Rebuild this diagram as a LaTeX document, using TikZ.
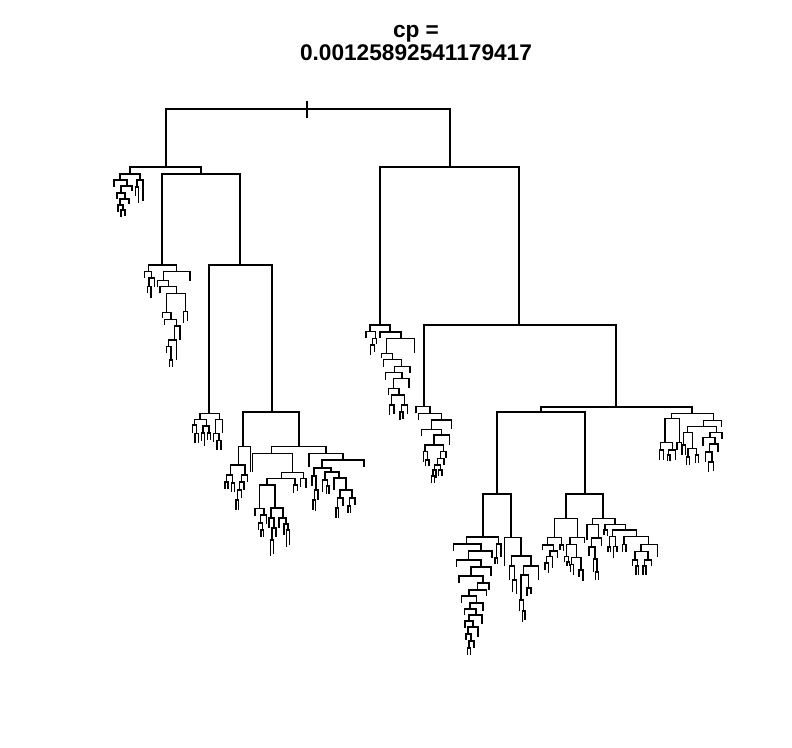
\documentclass[tikz,border=0pt]{standalone}
\usepackage{fontspec}
\newfontfamily\titlefont{Liberation Sans}
% bracket: left x, right x, bar y, left leg bottom, right leg bottom
\newcommand\dbr[5]{\draw[dend] (#1,#4)--(#1,#3)--(#2,#3)--(#2,#5);}
\begin{document}
\begin{tikzpicture}[x=0.75pt,y=-0.75pt,dend/.style={line width=0.8pt,black}]
\useasboundingbox (0,0) rectangle (792,747);
% title
\node[anchor=base,inner sep=0pt,font=\titlefont\bfseries\fontsize{17}{20}\selectfont] (t1) at (416,37.5) {cp =};
\node[anchor=base,inner sep=0pt,font=\titlefont\bfseries\fontsize{17}{20}\selectfont] (t2) at (416,60.7) {0.00125892541179417};
% skeleton
\dbr{166}{450}{109}{167}{167}
\draw[dend] (307,101)--(307,118);
\dbr{130}{201}{167}{174}{174}
\dbr{162}{240}{174}{265}{265}
\dbr{209}{272}{265}{413.3}{412}
\dbr{243}{299}{412}{446.7}{446.7}
\dbr{380}{519}{167}{325}{325}
\dbr{424}{616}{325}{406.7}{407}
\dbr{541}{692}{407}{412}{413.3}
\dbr{497}{585}{412}{494}{494}
\dbr{483}{511}{494}{537}{537.5}
\dbr{566}{603}{494}{518.3}{518.3}
% A
\dbr{120}{140}{174}{180}{180}
\dbr{114}{127}{180}{187}{186}
\dbr{121}{132}{186}{193}{191}
\dbr{117}{125}{193}{199}{199}
\dbr{120}{129}{199}{205}{204}
\dbr{118}{123}{205}{212}{210}
\dbr{121}{125}{210}{217}{216}
\dbr{137}{143}{180}{187}{201}
\dbr{135.5}{138.5}{187}{196}{203}
% B
\dbr{148.3}{176.7}{265}{271.7}{271.7}
\dbr{144.3}{151.7}{271.7}{278}{278}
\dbr{149}{154.3}{278}{286.7}{286.7}
\dbr{147.7}{151}{286.7}{293}{298}
\dbr{163.3}{190}{271.7}{280.7}{280.7}
\dbr{157.7}{168.3}{280.7}{287}{286.7}
\dbr{160}{176.7}{286.7}{293.3}{293.3}
\dbr{166.7}{185.7}{293.3}{312.7}{311.7}
\dbr{183.7}{187.7}{311.7}{323}{321}
\dbr{162.3}{171}{312.7}{318}{319.3}
\dbr{164.3}{176.7}{319.3}{325}{326}
\dbr{174.3}{180}{326}{340}{340}
\dbr{168.3}{176.7}{340}{346.7}{360}
\dbr{166.3}{171}{346.7}{353}{360}
\dbr{169.5}{172.5}{360}{367}{367}
% C
\dbr{200}{219.3}{413.3}{419.3}{419.3}
\dbr{194.3}{206.7}{419.3}{425}{426}
\dbr{192.3}{196.7}{425}{433.3}{433.3}
\dbr{195}{198.7}{433.3}{443.3}{443.3}
\dbr{203}{209}{426}{433}{433}
\dbr{201.7}{204.3}{433}{441}{446}
\dbr{207.7}{210.3}{433}{440}{440}
\dbr{215.7}{222.3}{419.3}{433.3}{433.3}
\dbr{213.3}{219}{433.3}{441.7}{440.7}
\dbr{217}{221}{440.7}{450}{450}
% D
\dbr{238.3}{250.7}{446.7}{465}{471.7}
\dbr{230.7}{245}{465}{475}{475}
\dbr{226.7}{232.7}{475}{482}{483}
\dbr{225}{228}{482}{489}{489}
\dbr{231.3}{234.3}{483}{492}{492}
\dbr{241.7}{247.3}{475}{482}{482}
\dbr{239.3}{244}{482}{490}{490}
\dbr{237.3}{241.3}{490}{500}{498}
\dbr{236}{238.7}{500}{510}{510}
% D' left
\dbr{271.7}{326}{446.7}{453.3}{453.3}
\dbr{252.7}{292.7}{453.3}{472.3}{472.3}
\dbr{281.7}{303.3}{472.3}{478.3}{478.3}
\dbr{300.3}{306}{478.3}{486.7}{488}
\dbr{267}{295}{478.3}{485}{485}
\dbr{293.3}{297.3}{485}{493.3}{491}
\dbr{259.3}{275}{485}{508.3}{508}
\dbr{255}{264}{508.3}{516}{515}
\dbr{260.3}{266.3}{515}{523}{524}
\dbr{258.3}{262.3}{523}{530}{530}
\dbr{261}{263.7}{530}{537}{537}
\dbr{271}{283}{508}{518}{518}
\dbr{269}{274}{518}{528}{528}
\dbr{272}{276}{528}{540}{537}
\dbr{270.7}{273.3}{540}{556}{554}
\dbr{279}{286}{518}{528}{524}
\dbr{284}{288}{524}{535}{530}
\dbr{286.3}{289.3}{530}{547}{545}
% D' right
\dbr{309}{343}{453.3}{467}{460}
\dbr{322}{364}{460}{468}{467}
\dbr{314}{331}{468}{476}{472}
\dbr{312}{316}{476}{486}{490}
\dbr{314.3}{318}{490}{500}{500}
\dbr{313}{315.7}{500}{510}{511}
\dbr{325}{339}{472}{480}{478}
\dbr{322.7}{327.7}{480}{492}{486}
\dbr{326.3}{329}{486}{494}{494}
\dbr{334}{346}{478}{490}{490}
\dbr{340}{352}{490}{498}{498}
\dbr{337.3}{343}{498}{508}{506}
\dbr{336}{338.7}{508}{518}{518}
\dbr{349.3}{355}{498}{506}{505}
\dbr{348}{350.7}{506}{513}{513}
% E
\dbr{370}{390}{325}{331.7}{332}
\dbr{366}{375.7}{331.7}{338.3}{338.3}
\dbr{372.7}{376.7}{338.3}{345}{344}
\dbr{370.3}{374.7}{345}{355}{352}
\dbr{380}{401}{332}{338}{338.3}
\dbr{386.7}{414.3}{338.3}{353.3}{353.3}
\dbr{381.7}{392.3}{353.3}{358}{359.3}
\dbr{383.3}{401.7}{359.3}{366.7}{366.7}
\dbr{394.3}{410}{366.7}{372.7}{372.7}
\dbr{385.7}{402}{372.7}{380}{378.3}
\dbr{393.3}{409}{378.3}{388.3}{388}
\dbr{388.3}{399}{388.3}{395}{395}
\dbr{391.7}{404.3}{395}{405}{405}
\dbr{389.3}{394}{405}{415}{414}
\dbr{401.3}{407.3}{405}{412}{414}
\dbr{400}{403}{412}{420}{419}
% F
\dbr{416}{430}{406.7}{413.3}{413.3}
\dbr{418.3}{441.7}{413.3}{420}{420}
\dbr{431.7}{451.7}{420}{429.3}{429.3}
\dbr{421.7}{441.7}{429.3}{436}{435}
\dbr{434}{449.3}{435}{445}{445}
\dbr{425}{443.3}{445}{451.7}{451.7}
\dbr{423.3}{427.3}{451.7}{461.7}{460}
\dbr{425.7}{429}{460}{466}{466}
\dbr{440.7}{446}{451.7}{458.3}{458}
\dbr{437.3}{444}{458.3}{465}{465}
\dbr{434.3}{440.3}{465}{470}{470}
\dbr{433}{436}{470}{476}{478}
\dbr{431.7}{434.3}{476}{483}{483}
\dbr{438.7}{442}{470}{476}{476}
% G1
\dbr{466.7}{498.3}{537}{544}{544}
\dbr{496.3}{501}{544}{558}{557}
\dbr{495}{497.7}{558}{564}{564}
\dbr{453.3}{481}{544}{551}{551}
\dbr{468.3}{492}{551}{560}{558}
\dbr{456.7}{481}{560}{567}{567}
\dbr{471}{491}{567}{576}{576}
\dbr{459}{483}{576}{583}{583}
\dbr{477.7}{489}{583}{590}{590}
\dbr{469}{486.7}{590}{596}{596}
\dbr{461.7}{476.7}{596}{603}{603}
\dbr{470}{483}{603}{609}{611}
\dbr{464.3}{476}{609}{615}{615}
\dbr{469}{482}{615}{621}{624}
\dbr{465}{473}{621}{628}{627}
\dbr{468}{478}{627}{634}{637}
\dbr{466}{471}{634}{640}{641}
\dbr{469}{474}{641}{648}{648}
\dbr{467.7}{470.7}{648}{655}{655}
% G2
\dbr{504.3}{521}{537.5}{566}{556}
\dbr{511.7}{531}{556}{566}{566}
\dbr{509.7}{514.7}{566}{580}{580}
\dbr{512.7}{516.3}{580}{592}{594}
\dbr{523.7}{538.3}{566}{575}{580}
\dbr{521}{528.7}{575}{600}{588}
\dbr{527}{531}{588}{596}{594}
\dbr{519.3}{523.7}{600}{611}{611}
\dbr{522.3}{525}{611}{622}{620}
% H1
\dbr{554.3}{577.7}{518.3}{537.7}{537.7}
\dbr{547.7}{561.7}{537.7}{545}{545}
\dbr{542.3}{553.3}{545}{550}{551}
\dbr{550}{557.7}{551}{556.7}{558}
\dbr{546.7}{552.3}{556.7}{563}{568}
\dbr{545}{548.3}{563}{570}{573}
\dbr{560}{563.3}{545}{550}{551}
\dbr{570}{584.3}{537.7}{544.3}{543}
\dbr{566.7}{576.7}{544.3}{556.7}{557.7}
\dbr{564.3}{568.3}{556.7}{562}{562}
\dbr{567}{569.7}{562}{566}{566}
\dbr{571.7}{581}{557.7}{564.3}{570}
\dbr{570.3}{573.3}{564.3}{572}{575}
\dbr{579}{583}{570}{577}{581}
% H2
\dbr{592.3}{615}{518.3}{524.3}{524.3}
\dbr{587}{598.3}{524.3}{540}{538}
\dbr{591.7}{601.7}{538}{547}{546}
\dbr{589}{595}{547}{556}{559}
\dbr{593.3}{597}{559}{572}{572}
\dbr{595.7}{598.3}{572}{580}{580}
\dbr{605}{625.7}{524.3}{530}{530}
\dbr{604}{607.3}{530}{535}{536}
\dbr{612.3}{636.7}{530}{536.7}{536.7}
\dbr{609.3}{615.3}{536.7}{547}{546.7}
\dbr{608}{610.7}{547}{552}{552}
\dbr{613.7}{617}{546.7}{558}{552}
\dbr{624}{648.3}{536.7}{544.3}{544.3}
\dbr{622.3}{626}{544.3}{551.7}{551.7}
\dbr{641}{657.7}{544.3}{551.7}{556.7}
\dbr{635}{648}{551.7}{560}{560}
\dbr{632.7}{637.3}{560}{566}{566}
\dbr{636}{638.7}{566}{575}{575}
\dbr{644.3}{651.3}{560}{566}{566}
\dbr{643}{646}{566}{575}{575}
% I
\dbr{671.7}{713.3}{413.3}{418.3}{420.7}
\dbr{665}{679.3}{418.3}{442.7}{442.7}
\dbr{660.7}{672.7}{442.7}{450}{450}
\dbr{659.3}{663.3}{450}{460}{460}
\dbr{668.7}{675.3}{450}{455}{460}
\dbr{667.3}{670}{455}{461}{461}
\dbr{677}{681.3}{442.7}{450}{453}
\dbr{703.3}{721.7}{420.7}{426.7}{426.7}
\dbr{687.3}{716.7}{426.7}{432.7}{432.7}
\dbr{683.3}{692.7}{432.7}{445}{448.3}
\dbr{682}{685.3}{445}{455}{455}
\dbr{688}{696.7}{448.3}{457}{455}
\dbr{686.3}{689.7}{457}{465}{465}
\dbr{695.3}{698.3}{455}{463}{463}
\dbr{710}{722}{432.7}{437.3}{439}
\dbr{703}{715}{437.3}{446}{444}
\dbr{709.3}{718}{444}{452}{452}
\dbr{705.7}{712}{452}{462}{462}
\dbr{708.7}{713.7}{462}{472}{471}
\end{tikzpicture}
\end{document}
